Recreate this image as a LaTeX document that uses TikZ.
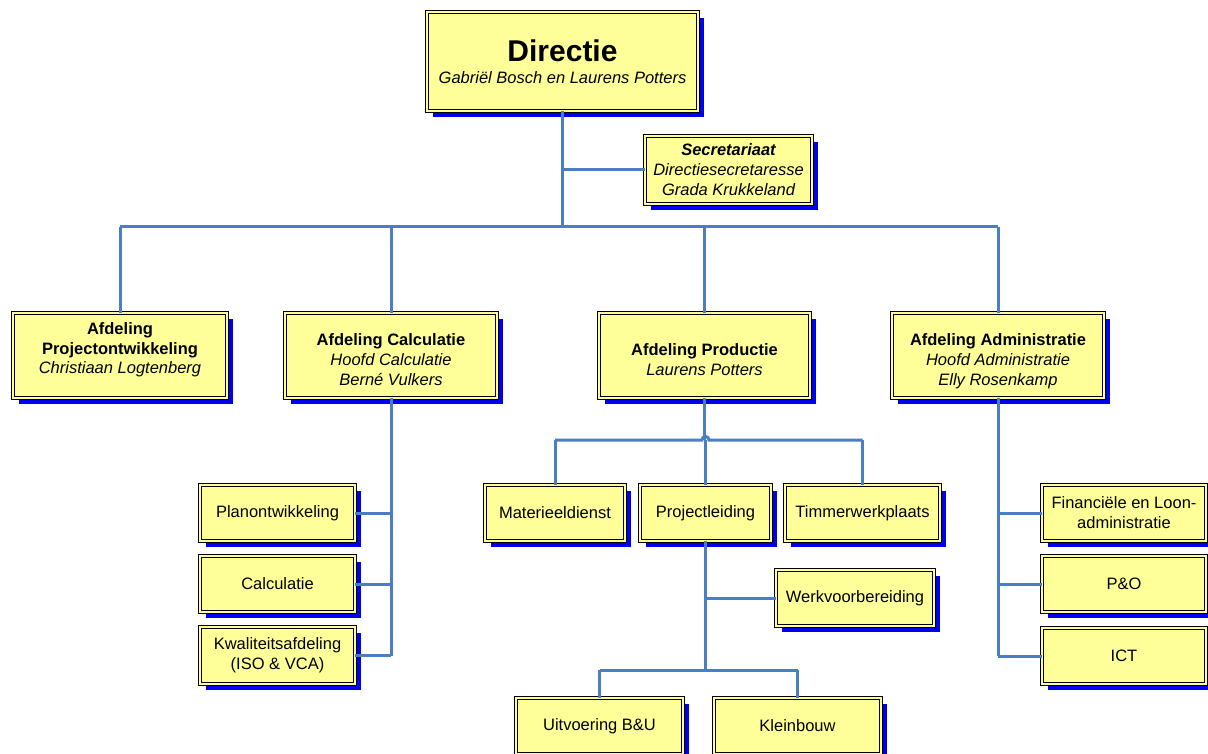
\documentclass[tikz,border=0pt]{standalone}
\usepackage{fontspec}
\setmainfont{Liberation Sans}
\usetikzlibrary{shadows}
\definecolor{boxfill}{RGB}{255,255,153}
\definecolor{shadowblue}{RGB}{0,0,240}
\definecolor{connblue}{RGB}{74,126,196}
\newcommand\shifttext[2]{\raisebox{#1}[\height][\depth]{\begin{tabular}{@{}c@{}}#2\end{tabular}}}
\tikzset{
  orgbox/.style={draw=black, line width=0.7pt, double=boxfill, double distance=2.2pt,
    fill=boxfill, inner sep=0pt, align=center,
    general shadow={fill=shadowblue, shadow xshift=6pt, shadow yshift=-6pt},
    font=\fontsize{16.5}{20}\selectfont},
  conn/.style={draw=connblue, line width=3pt},
}
\begin{document}
\begin{tikzpicture}[x=1pt,y=-1pt]
\useasboundingbox (0,0) rectangle (1208,754);
\begin{scope}
\clip (0,0) rectangle (1208,754);
% nodes
\node[orgbox, minimum width=271pt, minimum height=99pt] (dir) at (562.5,61.5)
  {{\fontsize{30}{34}\selectfont\bfseries Directie}\\[2pt]\itshape Gabriël Bosch en Laurens Potters};
\node[orgbox, minimum width=167pt, minimum height=68pt] (sec) at (728.5,170)
  {\bfseries\itshape Secretariaat\\\itshape Directiesecretaresse\\\itshape Grada Krukkeland};
\node[orgbox, minimum width=214pt, minimum height=85pt] (proj) at (120,355.5)
  {\shifttext{5.5pt}{\bfseries Afdeling\\\bfseries Projectontwikkeling\\[-1pt]\itshape Christiaan Logtenberg}};
\node[orgbox, minimum width=212pt, minimum height=85pt] (calc) at (391,355.5)
  {\shifttext{-6pt}{\bfseries Afdeling Calculatie\\\itshape Hoofd Calculatie\\\itshape Berné Vulkers}};
\node[orgbox, minimum width=211pt, minimum height=85pt] (prod) at (704.5,355.5)
  {\shifttext{-6pt}{\bfseries Afdeling Productie\\\itshape Laurens Potters}};
\node[orgbox, minimum width=212pt, minimum height=85pt] (adm) at (998,355.5)
  {\shifttext{-6pt}{\bfseries Afdeling Administratie\\\itshape Hoofd Administratie\\\itshape Elly Rosenkamp}};
\node[orgbox, minimum width=155pt, minimum height=56pt] (plan) at (277.5,513) {Planontwikkeling};
\node[orgbox, minimum width=155pt, minimum height=56pt] (calc2) at (277.5,584) {Calculatie};
\node[orgbox, minimum width=155pt, minimum height=57pt] (kwal) at (277.5,655.5) {Kwaliteitsafdeling\\(ISO \& VCA)};
\node[orgbox, minimum width=140pt, minimum height=56pt] (mat) at (555,513) {Materieeldienst};
\node[orgbox, minimum width=131pt, minimum height=56pt] (pl) at (705.5,513) {Projectleiding};
\node[orgbox, minimum width=155pt, minimum height=56pt] (timm) at (862.5,513) {Timmerwerkplaats};
\node[orgbox, minimum width=158pt, minimum height=56pt] (werk) at (855,598) {Werkvoorbereiding};
\node[orgbox, minimum width=167pt, minimum height=56pt] (uitv) at (599.5,726) {Uitvoering B\&U};
\node[orgbox, minimum width=167pt, minimum height=56pt] (klein) at (797.5,726) {Kleinbouw};
\node[orgbox, minimum width=164pt, minimum height=56pt] (fin) at (1124,513) {Financiële en Loon-\\administratie};
\node[orgbox, minimum width=164pt, minimum height=56pt] (po) at (1124,584) {P\&O};
\node[orgbox, minimum width=164pt, minimum height=56pt] (ict) at (1124,656) {ICT};
% connectors
\coordinate (bus) at (0,227);
\draw[conn] (proj.north |- bus) -- (adm.north |- bus);
\draw[conn] (dir.south) -- (dir.south |- bus);
\draw[conn] (dir.south |- sec.west) -- (sec.west);
\draw[conn] (proj.north) -- (proj.north |- bus);
\draw[conn] (calc.north) -- (calc.north |- bus);
\draw[conn] (prod.north) -- (prod.north |- bus);
\draw[conn] (adm.north) -- (adm.north |- bus);
% calculatie
\draw[conn] (calc.south) -- (calc.south |- kwal.east);
\draw[conn] (plan.east) -- (plan.east -| calc.south);
\draw[conn] (calc2.east) -- (calc2.east -| calc.south);
\draw[conn] (kwal.east) -- (kwal.east -| calc.south);
% productie
\coordinate (pbus) at (0,440);
\draw[conn] (prod.south) -- (prod.south |- pbus);
\draw[conn] (mat.north |- pbus) -- ([xshift=-3.5pt]pl.north |- pbus)
  arc[start angle=180, end angle=0, radius=3.5pt] -- (timm.north |- pbus);
\draw[conn] (mat.north) -- (mat.north |- pbus);
\draw[conn] (pl.north) -- (pl.north |- pbus);
\draw[conn] (timm.north) -- (timm.north |- pbus);
% projectleiding
\coordinate (ubus) at (0,670);
\draw[conn] (pl.south) -- (pl.south |- ubus);
\draw[conn] (pl.south |- werk.west) -- (werk.west);
\draw[conn] (uitv.north |- ubus) -- (klein.north |- ubus);
\draw[conn] (uitv.north) -- (uitv.north |- ubus);
\draw[conn] (klein.north) -- (klein.north |- ubus);
% administratie
\draw[conn] (adm.south) -- (adm.south |- ict.west);
\draw[conn] (fin.west) -- (fin.west -| adm.south);
\draw[conn] (po.west) -- (po.west -| adm.south);
\draw[conn] (ict.west) -- (ict.west -| adm.south);
\end{scope}
\end{tikzpicture}
\end{document}
